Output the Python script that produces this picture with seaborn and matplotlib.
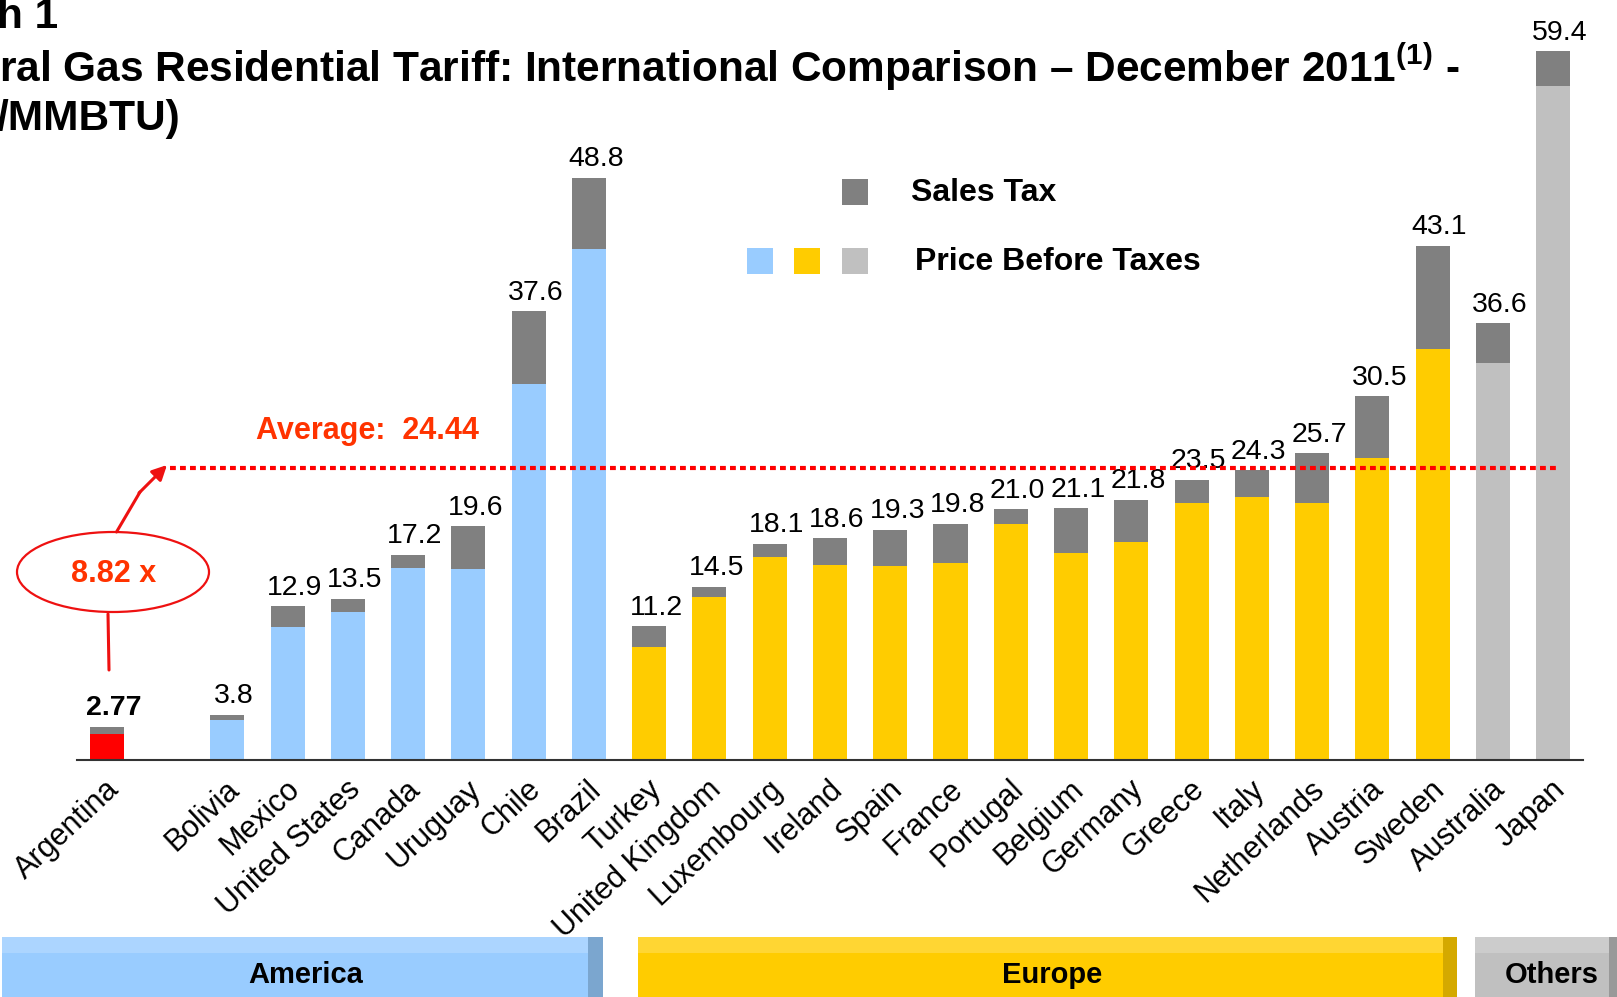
import matplotlib
matplotlib.use("Agg")
import matplotlib.pyplot as plt
import matplotlib.transforms as mtransforms
import seaborn as sns
import pandas as pd
from matplotlib.patches import Rectangle, Ellipse, FancyArrowPatch
from matplotlib.lines import Line2D

# ---------------- data ----------------
countries = ["Argentina", "Bolivia", "Mexico", "United States", "Canada", "Uruguay",
             "Chile", "Brazil", "Turkey", "United Kingdom", "Luxembourg", "Ireland",
             "Spain", "France", "Portugal", "Belgium", "Germany", "Greece", "Italy",
             "Netherlands", "Austria", "Sweden", "Australia", "Japan"]
regions = (["Argentina"] + ["America"] * 7 + ["Europe"] * 14 + ["Others"] * 2)
total_tariff = [2.77, 3.8, 12.9, 13.5, 17.2, 19.6, 37.6, 48.8, 11.2, 14.5, 18.1, 18.6,
                19.3, 19.8, 21.0, 21.1, 21.8, 23.5, 24.3, 25.7, 30.5, 43.1, 36.6, 59.4]
price_before_taxes = [2.18, 3.35, 11.15, 12.4, 16.1, 16.0, 31.55, 42.87, 9.47, 13.66,
                      17.02, 16.35, 16.26, 16.51, 19.78, 17.35, 18.27, 21.54, 22.04,
                      21.57, 25.34, 34.45, 33.28, 56.5]
value_labels = ["2.77", "3.8", "12.9", "13.5", "17.2", "19.6", "37.6", "48.8", "11.2",
                "14.5", "18.1", "18.6", "19.3", "19.8", "21.0", "21.1", "21.8", "23.5",
                "24.3", "25.7", "30.5", "43.1", "36.6", "59.4"]
average_value = 24.44
multiple_label = "8.82 x"
group_names = ["America", "Europe", "Others"]

GAP = " "
order = [countries[0], GAP] + countries[1:]

# ---------------- style ----------------
W, H = 1617, 997
TAX = "#808080"
region_colors = {"Argentina": "#FF0000", "America": "#99CCFF",
                 "Europe": "#FFCC00", "Others": "#C0C0C0"}
RED_TXT = "#FF3300"

sns.set_style("white")
plt.rcParams["font.family"] = ["Liberation Sans", "DejaVu Sans"]
plt.rcParams["text.color"] = "black"
plt.rcParams["mathtext.fontset"] = "custom"
plt.rcParams["mathtext.rm"] = "Liberation Sans"
plt.rcParams["mathtext.bf"] = "Liberation Sans:bold"


def fx(x):
    return x / W


def fy(y):
    return 1 - y / H


df = pd.DataFrame({"country": countries, "region": regions,
                   "total": total_tariff, "price": price_before_taxes})
palette = {c: region_colors[r] for c, r in zip(countries, regions)}

fig = plt.figure(figsize=(W / 100, H / 100), dpi=100)
ax = fig.add_axes([fx(76.6), (H - 760) / H, 1506.7 / W, 739.7 / H])

sns.barplot(data=df, x="country", y="total", order=order, color=TAX,
            saturation=1, width=0.565, errorbar=None, linewidth=0, ax=ax)
sns.barplot(data=df, x="country", y="price", order=order, hue="country",
            hue_order=countries, palette=palette, saturation=1, width=0.565,
            errorbar=None, linewidth=0, legend=False, dodge=False, ax=ax)

ax.set_xlim(-0.5, len(order) - 0.5)
ax.set_ylim(0, 62)
ax.set_xlabel("")
ax.set_ylabel("")
ax.set_yticks([])
for s in ["left", "right", "top"]:
    ax.spines[s].set_visible(False)
ax.spines["bottom"].set_color("#333333")
ax.spines["bottom"].set_linewidth(1.5)
ax.tick_params(axis="x", length=0, pad=18, labelcolor="black")
shift = mtransforms.ScaledTranslation(8 / 100, 0, fig.dpi_scale_trans)
for lab in ax.get_xticklabels():
    lab.set_rotation(43)
    lab.set_ha("right")
    lab.set_va("center")
    lab.set_rotation_mode("anchor")
    lab.set_fontsize(22)
    lab.set_color("black")
    lab.set_transform(lab.get_transform() + shift)

# value labels
for c, tot, lab in zip(countries, total_tariff, value_labels):
    pos = order.index(c)
    ax.annotate(lab, (pos, tot), xytext=(5, 4), textcoords="offset points",
                ha="center", va="bottom", fontsize=20.5, color="black",
                fontweight="bold" if c == "Argentina" else "normal")

# average line
ax.plot([1.05, 24.1], [average_value, average_value], color="#FF0000", lw=3,
        dashes=(1.4, 1.0), dash_capstyle="butt", zorder=5)
fig.text(fx(256), fy(431), f"Average:  {average_value:.2f}", color=RED_TXT,
         fontsize=22, fontweight="bold", ha="left", va="center")

# ellipse annotation
fig.add_artist(Ellipse((fx(113), fy(572)), 192 / W, 80 / H, transform=fig.transFigure,
                       fill=False, edgecolor="#EE1111", lw=1.6))
fig.text(fx(114), fy(574), multiple_label, color=RED_TXT, fontsize=22,
         fontweight="bold", ha="center", va="center")
fig.add_artist(Line2D([fx(108), fx(109)], [fy(614), fy(670)], color="#EE1111", lw=2.2,
                      transform=fig.transFigure))
fig.add_artist(Line2D([fx(116.5), fx(140)], [fy(532), fy(492)], color="#EE1111", lw=2.2,
                      transform=fig.transFigure))
fig.add_artist(FancyArrowPatch((fx(139), fy(493)), (fx(167), fy(465)),
                               transform=fig.transFigure, arrowstyle="-|>",
                               mutation_scale=22, color="#EE1111", lw=2.2,
                               shrinkA=0, shrinkB=0))

# legend (manual)
fig.add_artist(Rectangle((fx(842), fy(205)), 26 / W, 26 / H, transform=fig.transFigure,
                         facecolor=TAX, edgecolor="none"))
for x0, col in [(747, region_colors["America"]), (794, region_colors["Europe"]),
                (842, region_colors["Others"])]:
    fig.add_artist(Rectangle((fx(x0), fy(274)), 26 / W, 26 / H, transform=fig.transFigure,
                             facecolor=col, edgecolor="none"))
fig.text(fx(911), fy(193), "Sales Tax", fontsize=23, fontweight="bold",
         ha="left", va="center", color="black")
fig.text(fx(915), fy(262), "Price Before Taxes", fontsize=23, fontweight="bold",
         ha="left", va="center", color="black")

# title (cropped in the original)
fig.text(fx(-3), fy(28), "h 1", fontsize=30.5, fontweight="bold", ha="left",
         va="baseline", color="black")
fig.text(fx(-1), fy(82), r"ral Gas Residential Tariff: International Comparison – December 2011$^{\mathbf{(1)}}$ -",
         fontsize=30.5, fontweight="bold", ha="left", va="baseline", color="black")
fig.text(fx(-3), fy(130), "/MMBTU)", fontsize=30.5, fontweight="bold", ha="left",
         va="baseline", color="black")

# region banners
banners = [
    (2, 588, 603, "#99CCFF", "#ACD5FF", "#7BA6CF"),
    (638, 1443, 1457, "#FFCC00", "#FFD633", "#D4A900"),
    (1475, 1609, 1617, "#C0C0C0", "#CCCCCC", "#999999"),
]
for name, (x0, x1, x2, main, top, edge) in zip(group_names, banners):
    fig.add_artist(Rectangle((fx(x0), 0), (x1 - x0) / W, (H - 937) / H,
                             transform=fig.transFigure, facecolor=main, edgecolor="none"))
    fig.add_artist(Rectangle((fx(x0), fy(953)), (x1 - x0) / W, 16 / H,
                             transform=fig.transFigure, facecolor=top, edgecolor="none"))
    fig.add_artist(Rectangle((fx(x1), 0), (x2 - x1) / W, (H - 937) / H,
                             transform=fig.transFigure, facecolor=edge, edgecolor="none"))
for name, cx in zip(group_names, [306, 1052, 1552]):
    fig.text(fx(cx), fy(975), name, fontsize=21, fontweight="bold", ha="center",
             va="center", color="black")

fig.savefig("out.png", dpi=100)
